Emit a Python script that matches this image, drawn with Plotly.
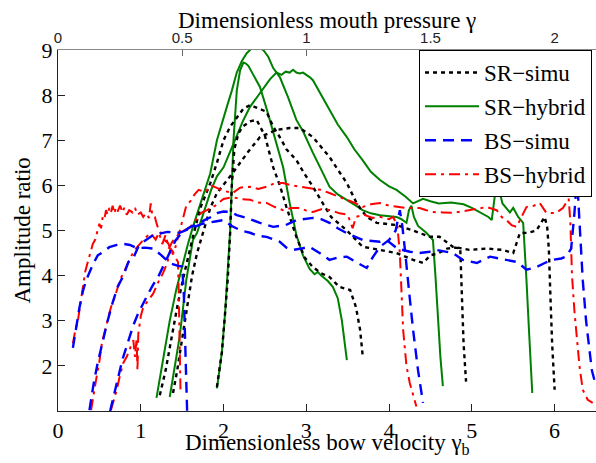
import plotly.graph_objects as go

# ---------------- data ----------------
# SR-simu (black dotted): three curves
sr_simu_1_x = [1.23, 1.30, 1.38, 1.45, 1.52, 1.58, 1.63, 1.72, 1.84, 1.92, 2.00, 2.08, 2.16, 2.24, 2.32, 2.40, 2.52, 2.60, 2.68, 2.76, 2.88, 2.98, 3.08, 3.20, 3.30, 3.49, 3.60, 3.68, 3.89, 4.09, 4.29, 4.41, 4.50, 4.60, 4.70, 4.80, 4.86, 4.88, 4.90, 4.93]
sr_simu_1_y = [1.35, 1.90, 2.70, 3.40, 4.00, 4.50, 4.86, 5.50, 6.05, 6.50, 7.00, 7.30, 7.50, 7.70, 7.78, 7.72, 7.63, 7.30, 7.07, 6.80, 6.56, 6.25, 5.97, 5.60, 5.30, 5.00, 4.80, 4.64, 4.57, 4.50, 4.35, 4.28, 4.45, 4.50, 4.60, 4.62, 4.60, 3.50, 2.50, 1.65]
sr_simu_2_x = [1.92, 1.98, 2.02, 2.05, 2.08, 2.10, 2.13, 2.18, 2.23, 2.32, 2.40, 2.50, 2.60, 2.68, 2.76, 2.88, 2.98, 3.08, 3.18, 3.28, 3.40, 3.53, 3.60, 3.65, 3.68]
sr_simu_2_y = [1.53, 2.30, 3.20, 3.90, 4.95, 6.00, 6.80, 7.15, 7.30, 7.42, 7.45, 7.10, 6.40, 6.00, 5.52, 4.86, 4.40, 4.19, 4.05, 3.97, 3.75, 3.68, 3.30, 2.80, 2.24]
sr_simu_3_x = [1.39, 1.44, 1.50, 1.56, 1.62, 1.68, 1.76, 1.84, 1.92, 2.02, 2.11, 2.20, 2.30, 2.44, 2.54, 2.64, 2.80, 2.92, 3.08, 3.18, 3.28, 3.38, 3.49, 3.61, 3.73, 3.85, 3.97, 4.09, 4.29, 4.49, 4.61, 4.77, 4.97, 5.18, 5.37, 5.50, 5.58, 5.68, 5.78, 5.88, 5.91, 5.93, 5.95, 5.97, 6.00]
sr_simu_3_y = [1.40, 1.90, 2.60, 3.30, 4.00, 4.50, 5.00, 5.50, 5.83, 6.05, 6.27, 6.50, 6.75, 7.07, 7.15, 7.23, 7.27, 7.27, 7.07, 6.85, 6.63, 6.35, 6.05, 5.60, 5.30, 5.17, 5.15, 5.12, 5.00, 4.86, 4.86, 4.64, 4.57, 4.60, 4.57, 4.50, 4.94, 4.95, 5.00, 5.30, 5.08, 4.60, 3.50, 2.50, 1.47]

# SR-hybrid (green solid): three curves
sr_hyb_1_x = [1.19, 1.25, 1.30, 1.35, 1.43, 1.51, 1.57, 1.63, 1.71, 1.78, 1.84, 1.92, 1.98, 2.04, 2.10, 2.16, 2.22, 2.28, 2.32, 2.36, 2.40, 2.44, 2.48, 2.54, 2.60, 2.68, 2.78, 2.88, 2.96, 3.02, 3.08, 3.18, 3.28, 3.38, 3.49, 3.60, 3.68, 3.78, 3.89, 4.00, 4.09, 4.15, 4.21, 4.24, 4.27, 4.30, 4.35, 4.45, 4.53, 4.56, 4.59, 4.62, 4.65]
sr_hyb_1_y = [1.29, 1.90, 2.50, 3.00, 3.70, 4.28, 4.70, 5.08, 5.52, 5.95, 6.27, 7.00, 7.40, 7.74, 8.10, 8.50, 8.75, 8.93, 9.00, 9.07, 9.02, 9.04, 9.00, 8.85, 8.60, 8.40, 7.95, 7.45, 7.20, 6.95, 6.72, 6.35, 5.97, 5.80, 5.68, 5.55, 5.45, 5.38, 5.34, 5.32, 5.30, 5.25, 5.17, 5.45, 5.55, 5.30, 5.10, 4.95, 4.79, 4.00, 3.00, 2.20, 1.55]
sr_hyb_2_x = [1.92, 1.98, 2.02, 2.04, 2.06, 2.08, 2.10, 2.12, 2.16, 2.20, 2.24, 2.27, 2.30, 2.36, 2.44, 2.52, 2.60, 2.68, 2.72, 2.80, 2.88, 2.96, 3.04, 3.10, 3.14, 3.18, 3.26, 3.32, 3.38, 3.43, 3.46, 3.49]
sr_hyb_2_y = [1.50, 2.30, 3.20, 3.75, 4.40, 5.00, 6.00, 7.00, 8.10, 8.55, 8.72, 8.70, 8.65, 8.45, 8.18, 7.70, 7.20, 6.70, 6.40, 5.60, 4.90, 4.45, 4.15, 4.03, 4.08, 4.00, 3.88, 3.75, 3.50, 3.00, 2.60, 2.13]
sr_hyb_3_x = [1.35, 1.41, 1.47, 1.55, 1.63, 1.68, 1.76, 1.85, 1.92, 2.00, 2.08, 2.16, 2.24, 2.32, 2.40, 2.48, 2.56, 2.64, 2.70, 2.75, 2.80, 2.84, 2.88, 2.92, 2.96, 3.00, 3.04, 3.08, 3.18, 3.28, 3.38, 3.49, 3.58, 3.68, 3.78, 3.89, 4.00, 4.09, 4.20, 4.29, 4.35, 4.41, 4.50, 4.60, 4.75, 4.90, 5.00, 5.10, 5.20, 5.24, 5.28, 5.30, 5.33, 5.37, 5.46, 5.50, 5.56, 5.62, 5.64, 5.66, 5.69, 5.71, 5.73]
sr_hyb_3_y = [1.31, 2.00, 2.65, 3.90, 4.79, 4.95, 5.40, 5.90, 6.20, 6.40, 6.75, 7.10, 7.45, 7.74, 7.95, 8.15, 8.35, 8.50, 8.45, 8.52, 8.50, 8.56, 8.50, 8.48, 8.50, 8.45, 8.40, 8.33, 8.00, 7.67, 7.35, 7.07, 6.80, 6.56, 6.30, 6.12, 5.98, 5.90, 5.75, 5.60, 5.65, 5.70, 5.65, 5.60, 5.62, 5.58, 5.50, 5.40, 5.30, 5.23, 5.80, 6.40, 5.90, 5.60, 5.40, 5.50, 5.30, 5.17, 4.60, 3.90, 2.80, 2.00, 1.40]

# BS-simu (blue dashed): three curves
bs_simu_1_x = [0.18, 0.22, 0.26, 0.30, 0.34, 0.42, 0.48, 0.55, 0.62, 0.71, 0.80, 0.87, 0.95, 1.05, 1.15, 1.25, 1.35, 1.44, 1.50, 1.52, 1.53, 1.54, 1.55, 1.56]
bs_simu_1_y = [2.40, 2.90, 3.30, 3.65, 3.90, 4.24, 4.45, 4.53, 4.63, 4.68, 4.70, 4.68, 4.61, 4.62, 4.60, 4.45, 4.28, 4.22, 4.20, 3.60, 2.80, 2.00, 1.40, 1.00]
bs_simu_2_x = [0.38, 0.43, 0.48, 0.54, 0.60, 0.66, 0.72, 0.79, 0.85, 0.91, 0.97, 1.03, 1.15, 1.32, 1.47, 1.60, 1.75, 1.90, 2.00, 2.10, 2.21, 2.32, 2.42, 2.52, 2.60, 2.68, 2.76, 2.84, 2.94, 3.04, 3.16, 3.28, 3.38, 3.49, 3.60, 3.73, 3.80, 3.89, 4.00, 4.08, 4.13, 4.16, 4.19, 4.21, 4.25, 4.29, 4.35, 4.41]
bs_simu_2_y = [1.02, 1.60, 2.07, 2.55, 3.00, 3.40, 3.75, 4.00, 4.30, 4.39, 4.64, 4.75, 4.90, 4.97, 4.95, 5.05, 5.15, 5.20, 5.23, 5.10, 5.00, 4.95, 4.88, 4.86, 4.80, 4.75, 4.62, 4.57, 4.60, 4.64, 4.50, 4.35, 4.40, 4.42, 4.30, 4.17, 4.40, 4.64, 4.79, 5.00, 5.45, 5.10, 4.60, 4.28, 3.50, 2.80, 1.90, 1.18]
bs_simu_3_x = [0.63, 0.68, 0.72, 0.78, 0.85, 0.91, 0.97, 1.03, 1.09, 1.15, 1.21, 1.29, 1.36, 1.42, 1.49, 1.60, 1.70, 1.77, 1.85, 1.93, 2.00, 2.09, 2.16, 2.28, 2.44, 2.60, 2.75, 2.88, 3.08, 3.18, 3.28, 3.38, 3.49, 3.60, 3.68, 3.89, 3.97, 4.10, 4.25, 4.37, 4.49, 4.57, 4.77, 4.89, 5.06, 5.22, 5.32, 5.42, 5.55, 5.66, 5.78, 5.88, 5.98, 6.08, 6.14, 6.20, 6.24, 6.27, 6.30, 6.32, 6.34, 6.38, 6.42, 6.45, 6.48]
bs_simu_3_y = [1.00, 1.35, 1.69, 2.15, 2.58, 2.90, 3.17, 3.40, 3.60, 3.80, 3.97, 4.28, 4.55, 4.78, 4.94, 5.08, 5.15, 5.23, 5.30, 5.39, 5.42, 5.41, 5.34, 5.28, 5.17, 5.08, 5.12, 5.23, 5.28, 5.25, 5.17, 5.05, 4.94, 4.85, 4.79, 4.75, 4.79, 4.60, 4.53, 4.50, 4.53, 4.57, 4.50, 4.35, 4.28, 4.42, 4.38, 4.35, 4.30, 4.13, 4.19, 4.28, 4.35, 4.38, 4.42, 4.60, 5.40, 6.20, 5.30, 4.60, 3.90, 3.00, 2.28, 1.90, 1.69]

# BS-hybrid (red dash-dot): three curves
bs_hyb_1_x = [0.18, 0.21, 0.24, 0.27, 0.30, 0.33, 0.36, 0.39, 0.42, 0.45, 0.48, 0.50, 0.52, 0.54, 0.56, 0.58, 0.60, 0.62, 0.64, 0.66, 0.68, 0.70, 0.72, 0.75, 0.78, 0.80, 0.83, 0.86, 0.90, 0.93, 0.96, 1.00, 1.03, 1.06, 1.10, 1.12, 1.14, 1.17, 1.20, 1.24, 1.28, 1.33, 1.38, 1.42, 1.45, 1.46, 1.47, 1.48]
bs_hyb_1_y = [2.50, 2.80, 3.00, 3.40, 3.80, 4.10, 4.30, 4.50, 4.70, 4.80, 5.00, 5.15, 5.05, 5.30, 5.25, 5.45, 5.35, 5.50, 5.40, 5.55, 5.38, 5.50, 5.42, 5.55, 5.40, 5.50, 5.35, 5.45, 5.40, 5.50, 5.35, 5.40, 5.30, 5.38, 5.28, 5.60, 5.32, 5.30, 5.10, 4.95, 4.80, 4.72, 4.50, 4.40, 4.30, 3.50, 2.50, 1.45]
bs_hyb_2_x = [0.40, 0.43, 0.46, 0.50, 0.53, 0.57, 0.60, 0.64, 0.68, 0.72, 0.76, 0.81, 0.85, 0.88, 0.94, 1.00, 1.06, 1.12, 1.18, 1.22, 1.26, 1.30, 1.34, 1.38, 1.45, 1.52, 1.60, 1.67, 1.73, 1.80, 1.90, 2.00, 2.11, 2.20, 2.32, 2.42, 2.52, 2.62, 2.72, 2.82, 2.92, 3.00, 3.08, 3.18, 3.30, 3.40, 3.50, 3.56, 3.60, 3.70, 3.80, 3.90, 4.00, 4.05, 4.10, 4.13, 4.15, 4.17, 4.21, 4.25, 4.33]
bs_hyb_2_y = [1.02, 1.40, 1.69, 2.10, 2.50, 2.80, 3.00, 3.30, 3.50, 3.75, 3.95, 4.13, 4.30, 4.42, 4.60, 4.72, 4.85, 4.94, 4.80, 4.95, 4.70, 4.90, 4.60, 4.75, 4.90, 5.00, 5.08, 5.25, 5.39, 5.45, 5.55, 5.70, 5.74, 5.70, 5.68, 5.62, 5.61, 5.52, 5.45, 5.50, 5.50, 5.44, 5.41, 5.47, 5.45, 5.38, 5.35, 5.05, 5.30, 5.35, 5.28, 5.30, 5.25, 5.30, 5.10, 4.50, 3.80, 2.80, 2.00, 1.62, 1.10]
bs_hyb_3_x = [0.64, 0.67, 0.71, 0.75, 0.79, 0.83, 0.87, 0.91, 0.93, 0.95, 0.96, 0.97, 1.00, 1.03, 1.09, 1.15, 1.21, 1.27, 1.32, 1.36, 1.40, 1.45, 1.50, 1.55, 1.60, 1.65, 1.70, 1.78, 1.85, 1.92, 2.00, 2.11, 2.20, 2.32, 2.42, 2.52, 2.62, 2.72, 2.82, 2.92, 3.00, 3.08, 3.18, 3.28, 3.38, 3.49, 3.60, 3.68, 3.78, 3.89, 4.00, 4.09, 4.20, 4.29, 4.37, 4.45, 4.53, 4.65, 4.77, 4.87, 4.97, 5.08, 5.18, 5.30, 5.36, 5.42, 5.48, 5.54, 5.60, 5.66, 5.75, 5.82, 5.90, 6.02, 6.10, 6.14, 6.17, 6.19, 6.21, 6.24, 6.26, 6.30, 6.34, 6.40, 6.46]
bs_hyb_3_y = [1.02, 1.20, 1.47, 1.80, 2.07, 2.20, 2.40, 2.57, 2.20, 2.60, 1.90, 2.70, 3.10, 3.30, 3.45, 3.60, 3.85, 4.06, 4.28, 4.60, 4.50, 4.85, 5.20, 5.55, 5.65, 5.80, 5.90, 5.85, 6.00, 5.94, 5.88, 5.83, 5.95, 5.97, 5.92, 5.97, 6.05, 6.05, 6.00, 5.97, 5.95, 5.94, 5.90, 5.83, 5.75, 5.68, 5.60, 5.52, 5.58, 5.61, 5.55, 5.52, 5.50, 5.50, 5.50, 5.45, 5.41, 5.40, 5.39, 5.42, 5.45, 5.50, 5.52, 5.45, 5.30, 5.23, 5.12, 5.08, 5.30, 5.52, 5.55, 5.61, 5.39, 5.39, 5.50, 5.61, 5.70, 5.20, 4.00, 3.20, 2.80, 2.00, 1.47, 1.25, 1.18]

# axis ticks
x_ticks = [0, 1, 2, 3, 4, 5, 6]
gamma_ticks = [0, 0.5, 1, 1.5, 2]
gamma_tick_labels = ["0", "0.5", "1", "1.5", "2"]
y_ticks = [2, 3, 4, 5, 6, 7, 8, 9]

series_names = ["SR\u2212simu", "SR\u2212hybrid", "BS\u2212simu", "BS\u2212hybrid"]

# ---------------- figure ----------------
SERIF = "Liberation Serif"
SANS = "Liberation Sans"

styles = {
    series_names[0]: dict(color="#000000", dash="4px,4px", width=2.4, rank=1),
    series_names[1]: dict(color="#008000", dash="solid", width=2, rank=2),
    series_names[2]: dict(color="#0000ff", dash="11px,7px", width=2.4, rank=3),
    series_names[3]: dict(color="#ff0000", dash="11px,5px,3px,5px", width=2, rank=4),
}

curves = {
    series_names[1]: [(sr_hyb_1_x, sr_hyb_1_y), (sr_hyb_2_x, sr_hyb_2_y), (sr_hyb_3_x, sr_hyb_3_y)],
    series_names[0]: [(sr_simu_1_x, sr_simu_1_y), (sr_simu_2_x, sr_simu_2_y), (sr_simu_3_x, sr_simu_3_y)],
    series_names[3]: [(bs_hyb_1_x, bs_hyb_1_y), (bs_hyb_2_x, bs_hyb_2_y), (bs_hyb_3_x, bs_hyb_3_y)],
    series_names[2]: [(bs_simu_1_x, bs_simu_1_y), (bs_simu_2_x, bs_simu_2_y), (bs_simu_3_x, bs_simu_3_y)],
}

fig = go.Figure()
for name, lst in curves.items():
    st = styles[name]
    for i, (xs, ys) in enumerate(lst):
        fig.add_trace(go.Scatter(
            x=xs, y=ys, mode="lines", name=name,
            legendgroup=name, showlegend=(i == 0), legendrank=st["rank"],
            line=dict(color=st["color"], dash=st["dash"], width=st["width"]),
            xaxis="x", yaxis="y", hoverinfo="skip",
        ))

# invisible trace to activate the top (gamma) axis
fig.add_trace(go.Scatter(x=[gamma_ticks[0]], y=[y_ticks[-1]], mode="markers",
                         marker=dict(opacity=0), xaxis="x2", yaxis="y",
                         showlegend=False, hoverinfo="skip"))

fig.update_layout(
    width=596, height=463,
    margin=dict(l=58, r=0, t=50, b=52),
    paper_bgcolor="white", plot_bgcolor="white",
    font=dict(family=SERIF, size=22, color="black"),
    xaxis=dict(range=[0, 6.5], tickvals=x_ticks, ticks="inside", ticklen=7,
               tickcolor="#222", showline=True, linecolor="#222", linewidth=1,
               showgrid=False, zeroline=False, tickfont=dict(family=SERIF, size=22),
               ticklabelstandoff=0),
    xaxis2=dict(range=[0, 6.5 / 3], overlaying="x", side="top", anchor="y",
                tickvals=gamma_ticks, ticktext=gamma_tick_labels, ticks="inside",
                ticklen=6, tickcolor="#666", showline=True, linecolor="#888",
                linewidth=1, showgrid=False, zeroline=False,
                tickfont=dict(family=SANS, size=15, color="#222")),
    yaxis=dict(range=[1.0, 9.0], tickvals=y_ticks, ticks="inside", ticklen=7,
               tickcolor="#222", showline=True, linecolor="#222", linewidth=1,
               showgrid=False, zeroline=False, tickfont=dict(family=SERIF, size=22)),
    legend=dict(x=0.9926, xanchor="right", y=1.0, yanchor="top",
                bgcolor="white", bordercolor="black", borderwidth=1,
                font=dict(family=SERIF, size=23), traceorder="grouped",
                tracegroupgap=1, itemwidth=54),
    annotations=[
        dict(text="Dimensionless mouth pressure \u03b3", xref="paper", yref="paper",
             x=0.5, y=1.0, yshift=30, xanchor="center", yanchor="middle",
             showarrow=False, font=dict(family=SERIF, size=23)),
        dict(text="Dimensionless bow velocity \u03b3<sub>b</sub>", xref="paper", yref="paper",
             x=0.5, y=0.0, yshift=-33, xanchor="center", yanchor="middle",
             showarrow=False, font=dict(family=SERIF, size=23)),
        dict(text="Amplitude ratio", xref="paper", yref="paper", textangle=-90,
             x=0.0, xshift=-36, y=0.5, xanchor="center", yanchor="middle",
             showarrow=False, font=dict(family=SERIF, size=23)),
    ],
)

fig.write_html("out.html", config={"displayModeBar": False},
               post_script="document.body.style.margin='0';document.body.style.overflow='hidden';")
